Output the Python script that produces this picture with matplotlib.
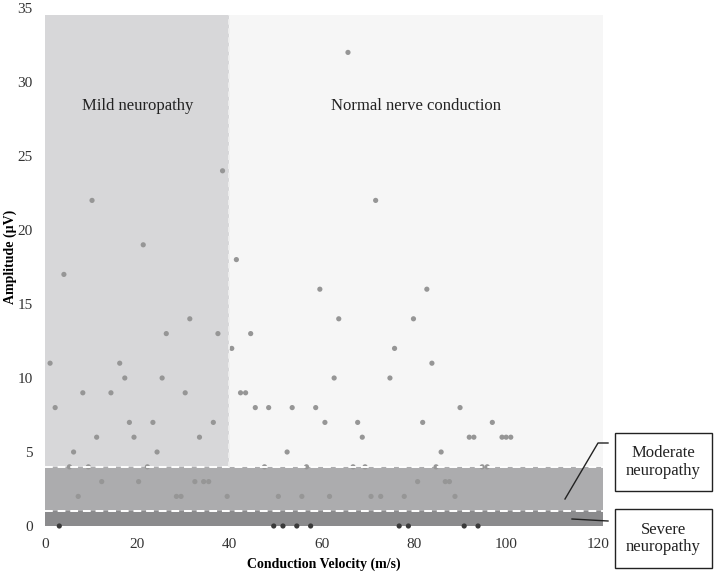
import matplotlib.pyplot as plt
from matplotlib.patches import Rectangle
from matplotlib.lines import Line2D

# ==================== Data ====================
velocity = [65.7, 38.5, 10.2, 71.7, 21.3, 41.5, 4.1, 59.6, 82.8,
            31.4, 63.7, 79.9, 26.3, 37.5, 44.6, 40.5, 75.8,
            1.1, 16.2, 83.9, 17.3, 25.4, 62.7, 74.8,
            8.2, 14.3, 30.4, 42.4, 43.5,
            2.2, 45.6, 48.5, 53.6, 58.7, 90.0,
            18.3, 23.4, 36.5, 60.7, 67.8, 81.9, 97.0,
            11.2, 19.3, 33.5, 68.8, 92.0, 93.0, 99.1, 100.0, 101.0,
            6.2, 24.3, 52.5, 85.9,
            5.3, 9.4, 22.2, 47.6, 56.7, 66.8, 69.4, 84.8, 94.8, 95.9,
            12.3, 20.3, 32.5, 34.4, 35.5, 80.8, 86.8, 87.7,
            7.2, 28.5, 29.5, 39.5, 50.6, 55.7, 61.7, 70.7, 72.8, 77.9, 88.9,
            3.1, 49.6, 51.6, 54.6, 57.6, 76.8, 78.8, 90.9, 93.9]
amplitude = [32, 24, 22, 22, 19, 18, 17, 16, 16,
             14, 14, 14, 13, 13, 13, 12, 12,
             11, 11, 11, 10, 10, 10, 10,
             9, 9, 9, 9, 9,
             8, 8, 8, 8, 8, 8,
             7, 7, 7, 7, 7, 7, 7,
             6, 6, 6, 6, 6, 6, 6, 6, 6,
             5, 5, 5, 5,
             4, 4, 4, 4, 4, 4, 4, 4, 4, 4,
             3, 3, 3, 3, 3, 3, 3, 3,
             2, 2, 2, 2, 2, 2, 2, 2, 2, 2, 2,
             0, 0, 0, 0, 0, 0, 0, 0, 0]

x_ticks = [0, 20, 40, 60, 80, 100, 120]
y_ticks = [0, 5, 10, 15, 20, 25, 30, 35]

# границы зон
severe_max = 1
moderate_max = 4
mild_vel = 40
zone_top = 34.5
vel_max = 121

plt.rcParams['font.family'] = ['Liberation Serif', 'DejaVu Serif']

W, H = 722, 572
fig = plt.figure(figsize=(W / 100, H / 100), dpi=100)
ax = fig.add_axes([45 / W, 46 / H, 558 / W, 518 / H])

# ==================== Зоны ====================
ax.add_patch(Rectangle((0, moderate_max), mild_vel, zone_top - moderate_max,
                       facecolor='#d7d7d9', edgecolor='none', zorder=0))
ax.add_patch(Rectangle((mild_vel, moderate_max), vel_max - mild_vel, zone_top - moderate_max,
                       facecolor='#f6f6f6', edgecolor='none', zorder=0))
ax.add_patch(Rectangle((0, severe_max), vel_max, moderate_max - severe_max,
                       facecolor='#acacae', edgecolor='none', zorder=0))
ax.add_patch(Rectangle((0, 0), vel_max, severe_max,
                       facecolor='#8b8b8d', edgecolor='none', zorder=0))

# ==================== Точки ====================
colors = ['#3a3a3a' if a == 0 else '#969696' for a in amplitude]
ax.scatter(velocity, amplitude, s=14, c=colors, linewidths=0, zorder=2, clip_on=False)

# пунктирные границы
ax.plot([0, vel_max], [moderate_max, moderate_max], color='white', lw=1.4,
        ls=(0, (4, 2.5)), zorder=3)
ax.plot([0, vel_max], [severe_max, severe_max], color='white', lw=1.4,
        ls=(0, (4, 2.5)), zorder=3)
ax.plot([mild_vel, mild_vel], [moderate_max, zone_top], color='#f0f0f0', lw=1.3,
        ls=(0, (3, 2)), zorder=3)

ax.text(20, 28.4, 'Mild neuropathy', ha='center', va='center', fontsize=12, color='#222222')
ax.text(80.5, 28.4, 'Normal nerve conduction', ha='center', va='center', fontsize=12,
        color='#222222')

ax.set_xlim(0, vel_max)
ax.set_ylim(0, 35)
ax.set_xticks(x_ticks)
ax.set_yticks(y_ticks)
ax.tick_params(axis='both', length=0, labelsize=11, labelcolor='#333333')
ax.tick_params(axis='y', pad=9)
ax.tick_params(axis='x', pad=9)
for s in ax.spines.values():
    s.set_visible(False)
ax.set_facecolor('white')

ax.set_xlabel('Conduction Velocity (m/s)', fontsize=10, fontweight='bold', labelpad=4)


# ==================== Подписи справа ====================
def px(x, y):
    return x / W, 1 - y / H


fig.text(*px(10, 257), 'Amplitude (\u00b5V)', rotation=90, ha='center', va='center',
         fontsize=10, fontweight='bold')

for (top, bottom, label) in [(433, 491, 'Moderate\nneuropathy'), (509, 568, 'Severe\nneuropathy')]:
    x0, y0 = px(615, bottom)
    fig.patches.append(Rectangle((x0, y0), 97 / W, (bottom - top) / H, transform=fig.transFigure,
                                 facecolor='white', edgecolor='#222222', lw=1.0))
    cx, cy = px(663.5, (top + bottom) / 2)
    fig.text(cx, cy, label, ha='center', va='center', fontsize=12, color='#222222',
             linespacing=1.15)

xs, ys = zip(*[px(608, 443), px(598, 443), px(565, 499)])
fig.lines.append(Line2D(xs, ys, transform=fig.transFigure, color='#222222', lw=1.0))
xs, ys = zip(*[px(608, 521), px(572, 519)])
fig.lines.append(Line2D(xs, ys, transform=fig.transFigure, color='#222222', lw=1.0))

plt.savefig('out.png', dpi=100)
